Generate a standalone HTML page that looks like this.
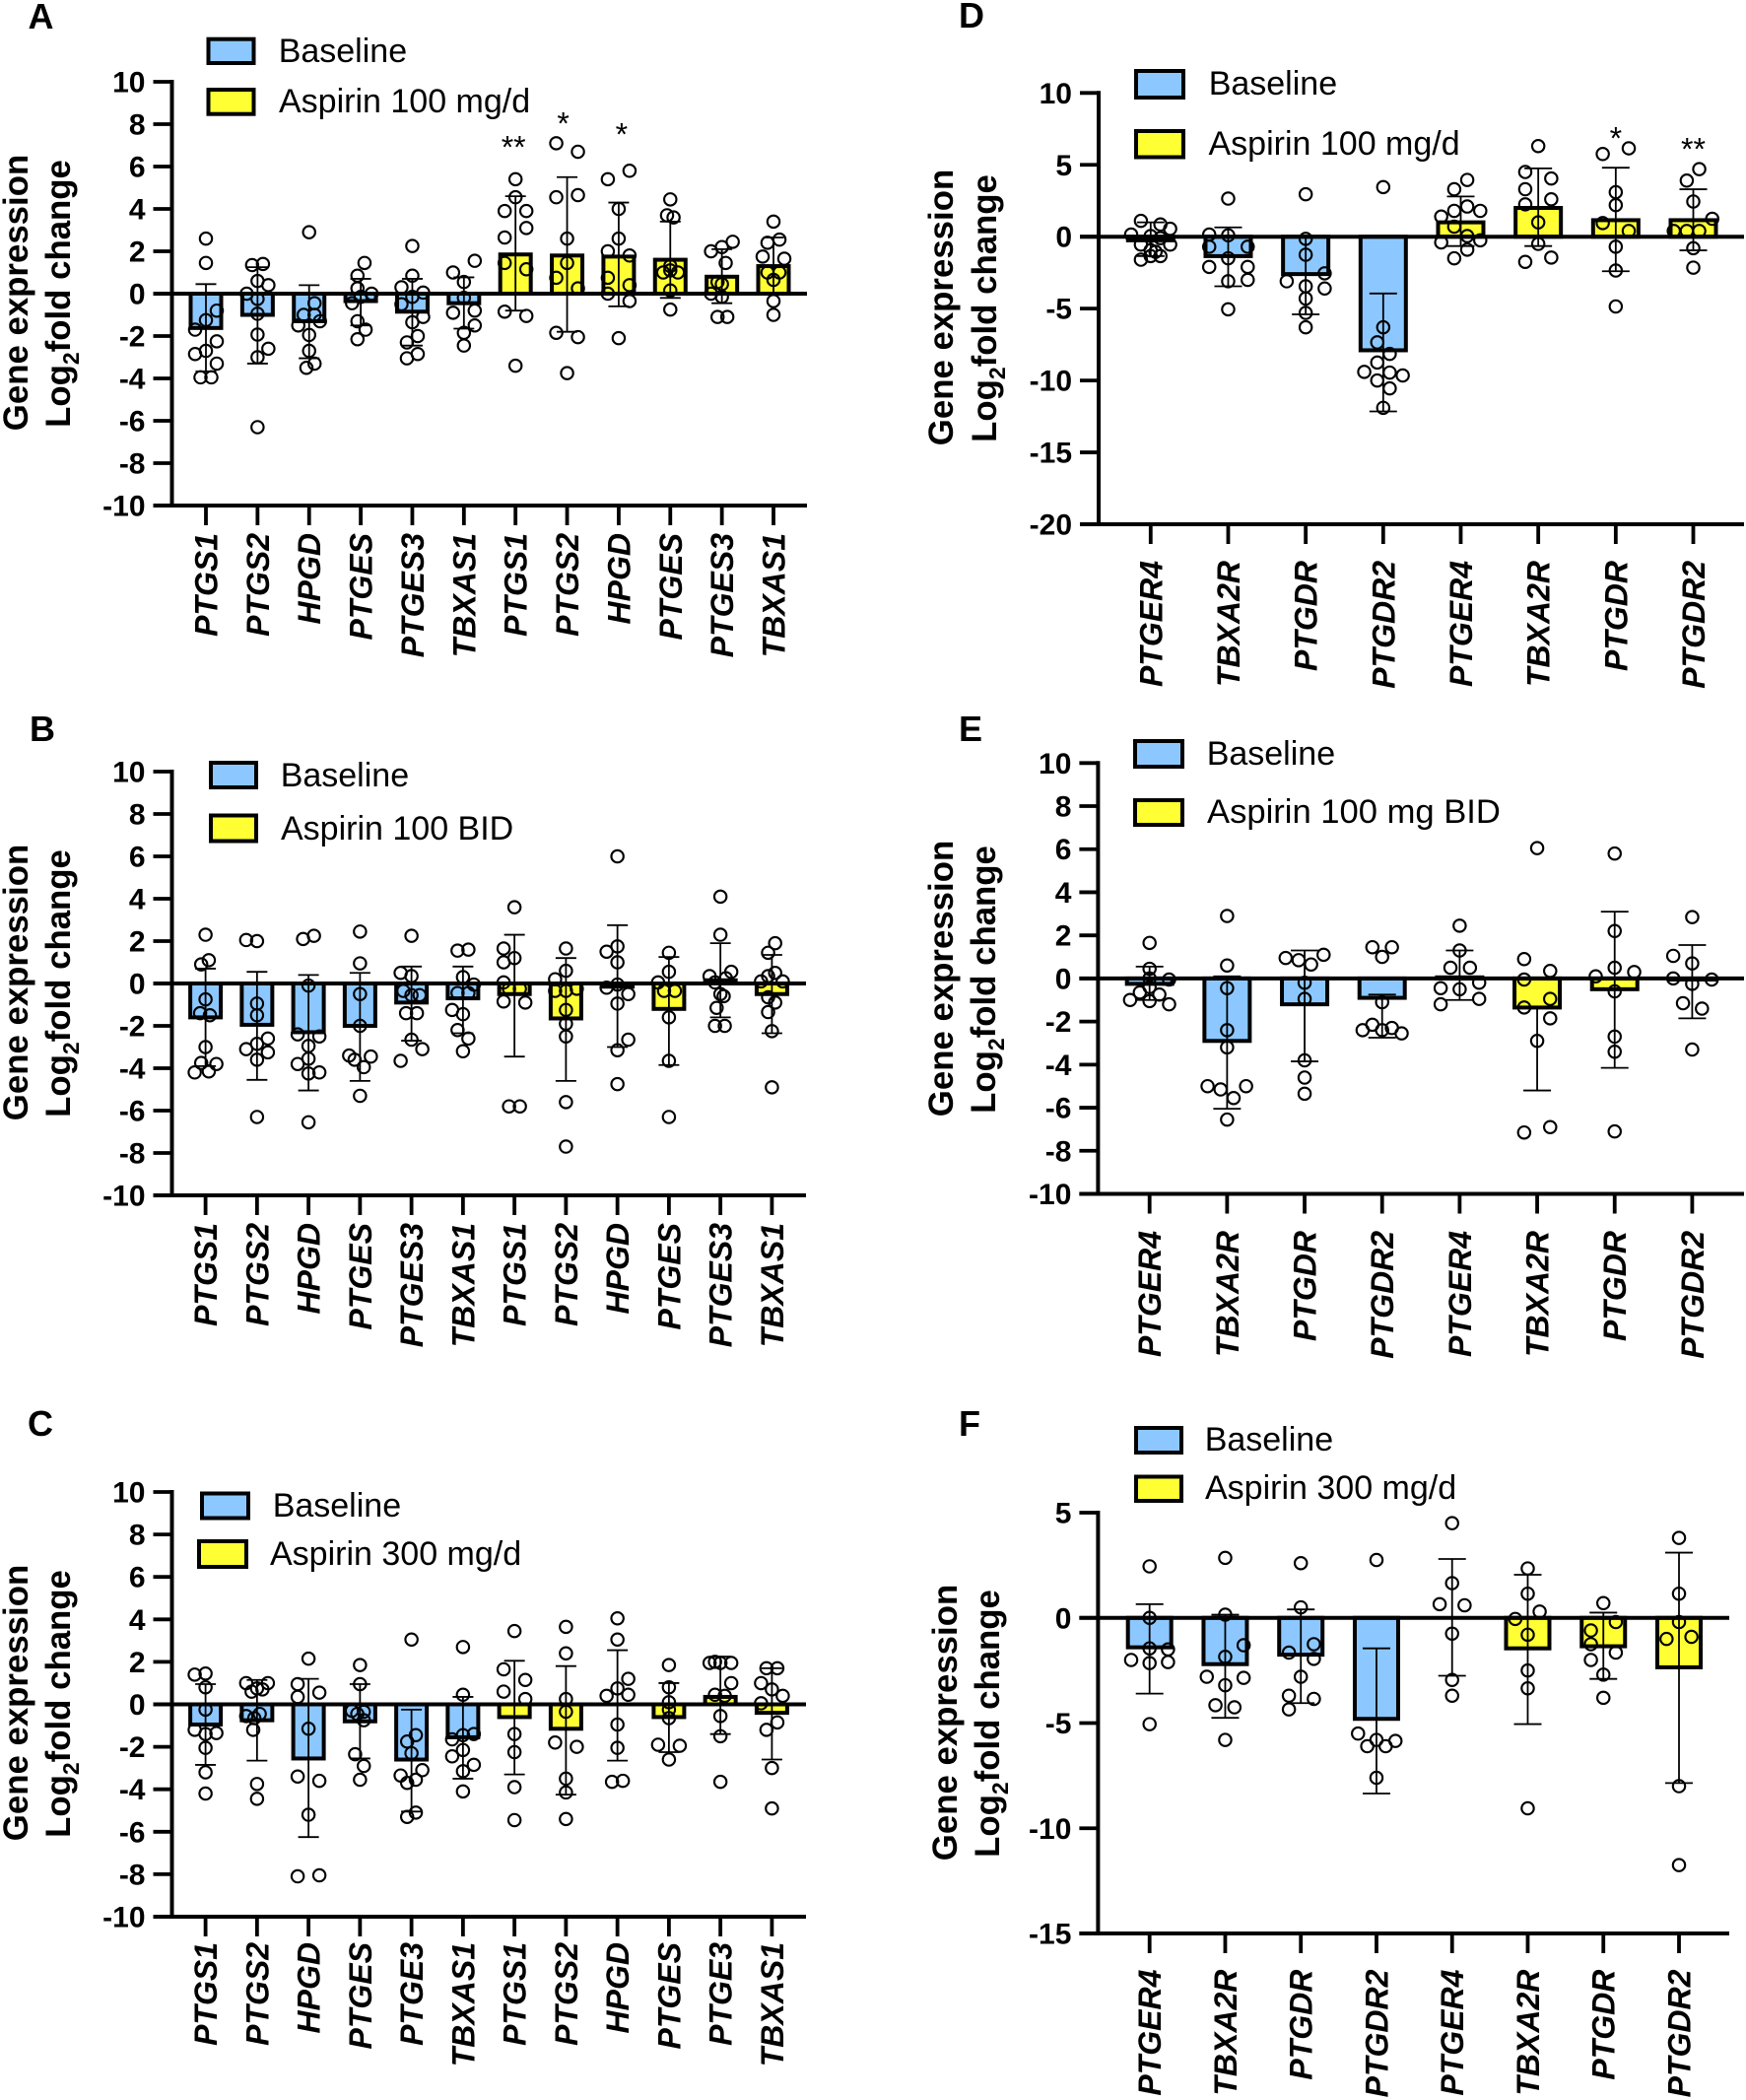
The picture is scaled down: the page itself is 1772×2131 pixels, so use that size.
<!DOCTYPE html>
<html lang="en">
<head>
<meta charset="utf-8">
<title>Gene expression after aspirin</title>
<style>
html,body{margin:0;padding:0;background:#fff;width:1772px;height:2131px;overflow:hidden}
svg{display:block;font-family:"Liberation Sans",Arial,sans-serif}
.letter{font-size:36px;font-weight:bold}
.ytitle{font-size:34.8px;font-weight:bold}
.legend-text{font-size:34px}
.swatch{stroke:#000;stroke-width:4}
.blue{fill:#8CC8FF}
.yellow{fill:#FFFF33}
</style>
</head>
<body>
<svg id="figure" xmlns="http://www.w3.org/2000/svg" width="1772" height="2131" viewBox="0 0 1772 2131">
<rect width="1772" height="2131" fill="#fff"/>

<text class="letter" x="28.5" y="29">A</text>
<text class="letter" x="30" y="752">B</text>
<text class="letter" x="28" y="1457">C</text>
<text class="letter" x="973" y="28">D</text>
<text class="letter" x="973" y="752">E</text>
<text class="letter" x="973" y="1457">F</text>

<g>
<rect class="swatch blue" x="211.5" y="39.7" width="46" height="24.3"/>
<text class="legend-text" x="282.7" y="63">Baseline</text>
<rect class="swatch yellow" x="211.5" y="91" width="46" height="24.7"/>
<text class="legend-text" x="283" y="114">Aspirin 100 mg/d</text>
</g>
<g>
<rect class="swatch blue" x="214" y="774" width="46" height="25"/>
<text class="legend-text" x="284.7" y="798">Baseline</text>
<rect class="swatch yellow" x="214" y="827.5" width="46" height="26"/>
<text class="legend-text" x="285" y="852">Aspirin 100 BID</text>
</g>
<g>
<rect class="swatch blue" x="205" y="1515.5" width="47" height="25"/>
<text class="legend-text" x="276.7" y="1539">Baseline</text>
<rect class="swatch yellow" x="202" y="1564" width="48" height="26"/>
<text class="legend-text" x="274" y="1588">Aspirin 300 mg/d</text>
</g>
<g>
<rect class="swatch blue" x="1153" y="72" width="48" height="27"/>
<text class="legend-text" x="1226.7" y="96">Baseline</text>
<rect class="swatch yellow" x="1153" y="133" width="48" height="26.5"/>
<text class="legend-text" x="1226.5" y="157">Aspirin 100 mg/d</text>
</g>
<g>
<rect class="swatch blue" x="1152" y="752" width="48" height="26"/>
<text class="legend-text" x="1224.7" y="776">Baseline</text>
<rect class="swatch yellow" x="1152" y="812" width="48" height="25"/>
<text class="legend-text" style="font-size:34.6px" x="1225" y="835">Aspirin 100 mg BID</text>
</g>
<g>
<rect class="swatch blue" x="1153" y="1449" width="46" height="25"/>
<text class="legend-text" x="1222.7" y="1472">Baseline</text>
<rect class="swatch yellow" x="1153" y="1498.5" width="46" height="24.5"/>
<text class="legend-text" x="1223" y="1521">Aspirin 300 mg/d</text>
</g>

<g>
<text class="ytitle" text-anchor="middle" transform="translate(28 297) rotate(-90)">Gene expression</text>
<text class="ytitle" text-anchor="middle" transform="translate(71 298) rotate(-90)">Log<tspan font-size="23" dy="9">2</tspan><tspan dy="-9">fold change</tspan></text>
</g>
<g>
<text class="ytitle" text-anchor="middle" transform="translate(28 997) rotate(-90)">Gene expression</text>
<text class="ytitle" text-anchor="middle" transform="translate(71 998) rotate(-90)">Log<tspan font-size="23" dy="9">2</tspan><tspan dy="-9">fold change</tspan></text>
</g>
<g>
<text class="ytitle" text-anchor="middle" transform="translate(28 1728) rotate(-90)">Gene expression</text>
<text class="ytitle" text-anchor="middle" transform="translate(71 1729) rotate(-90)">Log<tspan font-size="23" dy="9">2</tspan><tspan dy="-9">fold change</tspan></text>
</g>
<g>
<text class="ytitle" text-anchor="middle" transform="translate(967 312) rotate(-90)">Gene expression</text>
<text class="ytitle" text-anchor="middle" transform="translate(1011 313) rotate(-90)">Log<tspan font-size="23" dy="9">2</tspan><tspan dy="-9">fold change</tspan></text>
</g>
<g>
<text class="ytitle" text-anchor="middle" transform="translate(967 993) rotate(-90)">Gene expression</text>
<text class="ytitle" text-anchor="middle" transform="translate(1010 994) rotate(-90)">Log<tspan font-size="23" dy="9">2</tspan><tspan dy="-9">fold change</tspan></text>
</g>
<g>
<text class="ytitle" text-anchor="middle" transform="translate(971 1748) rotate(-90)">Gene expression</text>
<text class="ytitle" text-anchor="middle" transform="translate(1014 1749) rotate(-90)">Log<tspan font-size="23" dy="9">2</tspan><tspan dy="-9">fold change</tspan></text>
</g>
</svg>

<script>
// ---------- shared tick labels and category groups ----------
const ticksTen = [10, 8, 6, 4, 2, 0, -2, -4, -6, -8, -10];
const ticksD = [10, 5, 0, -5, -10, -15, -20];
const ticksF = [5, 0, -5, -10, -15];
const groupsTwelve = [0, 0, 0, 0, 0, 0, 1, 1, 1, 1, 1, 1];
const groupsEight = [0, 0, 0, 0, 1, 1, 1, 1];
const catsAB = ['PTGS1', 'PTGS2', 'HPGD', 'PTGES', 'PTGES3', 'TBXAS1', 'PTGS1', 'PTGS2', 'HPGD', 'PTGES', 'PTGES3', 'TBXAS1'];
const catsC = ['PTGS1', 'PTGS2', 'HPGD', 'PTGES', 'PTGE3', 'TBXAS1', 'PTGS1', 'PTGS2', 'HPGD', 'PTGES', 'PTGE3', 'TBXAS1'];
const catsDEF = ['PTGER4', 'TBXA2R', 'PTGDR', 'PTGDR2', 'PTGER4', 'TBXA2R', 'PTGDR', 'PTGDR2'];

// ---------- panel A ----------
const meansA = [-1.62, -1.0, -1.3, -0.35, -0.85, -0.45, 1.85, 1.8, 1.75, 1.6, 0.8, 1.3];
const errHighA = [0.45, 1.25, 0.4, 0.7, 0.7, 0.77, 4.6, 5.5, 4.3, 3.4, 2.1, 2.65];
const errLowA = [-3.67, -3.3, -3.05, -1.5, -2.45, -1.65, -0.8, -1.8, -0.6, -0.2, -0.45, -0.05];
const sigA = ['', '', '', '', '', '', '**', '*', '*', '', '', ''];
const sigLevelA = [0, 0, 0, 0, 0, 0, 7.1, 8.2, 7.7, 0, 0, 0];
const pointsA = [
  [2.6, 1.45, -0.8, -1.25, -1.7, -2.25, -2.7, -2.85, -3.3, -3.95, -3.95],
  [1.35, 1.4, 0.6, 0.4, 0, -0.25, -0.95, -1.93, -2.6, -3, -6.3],
  [2.9, -0.45, -1, -1, -1.5, -1.3, -1.95, -2.7, -3.3, -3.5],
  [1.45, 0.85, 0.25, 0, -0.15, -0.45, -1.3, -1.7, -2.15],
  [2.25, 0.85, 0.3, 0.05, -0.15, -0.5, -1.1, -1.35, -2, -2.3, -2.85, -3.05],
  [1.55, 1, 0.55, -0.2, -0.8, -0.9, -1.5, -1.85, -2.45],
  [5.4, 4.55, 3.9, 3.9, 3.1, 2.65, 1.45, 1.15, -0.85, -1.05, -3.4],
  [7.1, 6.7, 4.65, 4.55, 2.6, 1.45, 0.75, 0.25, -1.85, -2.05, -3.75],
  [5.8, 5.4, 4, 2.6, 2, 1.8, 0.75, 0.4, 0, -0.35, -2.1],
  [4.45, 3.7, 3.6, 1.3, 1.1, 1, 1, 0.15, -0.75],
  [2.45, 2.2, 2, 1.45, 0.55, 0.45, 0, -0.15, -1.1, -1.1],
  [3.4, 2.55, 2.4, 1.75, 1.65, 1, 1, 0.65, -0.35, -1]
];
const swarmA = [
  [0, 0, 1, 0, -1, 1, 0, -1, 1, -0.5, 0.5],
  [-0.5, 0.5, 0, 1, -1, 0, 0, 0, 1, 0, 0],
  [0, 0.5, -0.5, 0.5, -1, 1, 0, 0, 0.5, -0.25],
  [0.35, -0.3, -0.3, 1, 0, -0.8, -0.3, 0.45, -0.3],
  [0, 0, -1, 1, 0, -1, 1, 0, 0.5, -0.5, 0.5, -0.5],
  [1, -1, 0, 0, 1, -1, 1, 0, 0],
  [0, 0, -1, 1, 1, -1, -1, 1, -1, 1, 0],
  [-1, 1, 1, -1, 0, 0, -1, 1, -1, 1, 0],
  [1, -1, 0, 0, -1, 1, -1, 1, -1, 1, 0],
  [0, -0.3, 0.3, 0, 0, -0.65, 0.7, 0, 0],
  [1, 0, -1, 0.35, -0.4, 0, -1, 0, -0.4, 0.5],
  [0, 0.55, -0.55, -1, 1, -0.55, 0.55, 0, 0, 0]
];

// ---------- panel B ----------
const meansB = [-1.6, -1.95, -2.3, -2, -0.9, -0.7, -0.5, -1.65, -0.15, -1.2, 0.15, -0.5];
const errHighB = [0.7, 0.55, 0.4, 0.5, 0.8, 0.8, 2.3, 1.2, 2.75, 1.25, 1.9, 1.35];
const errLowB = [-3.9, -4.55, -5.05, -4.6, -2.7, -2.35, -3.45, -4.6, -3, -3.85, -1.6, -2.35];
const sigB = ['', '', '', '', '', '', '', '', '', '', '', ''];
const sigLevelB = [0, 0, 0, 0, 0, 0, 0, 0, 0, 0, 0, 0];
const pointsB = [
  [2.3, 1.1, 0.9, -0.75, -1.4, -1.5, -3, -3.75, -3.8, -4.2, -4.15],
  [2.05, 2, -0.95, -1.5, -2.6, -2.85, -3.1, -3.25, -3.6, -6.3],
  [2.25, 2.1, -0.1, -2.4, -2.5, -2.95, -3.55, -3.8, -4.2, -4.25, -6.55],
  [2.45, 0.95, -0.5, -2, -3.45, -3.4, -3.6, -3.95, -5.3],
  [2.25, 0.5, 0.35, -0.35, -0.55, -0.55, -1.4, -1.4, -2.65, -3.1, -3.65],
  [1.55, 1.6, 0.3, -0.05, -0.45, -0.45, -1.25, -1.45, -2.2, -2.6, -3.2],
  [3.6, 1.65, 1.2, 1, 0.05, -0.25, -0.25, -0.85, -0.9, -5.8, -5.8],
  [1.65, 0.6, 0.2, -0.25, -0.35, -0.35, -1.25, -1.9, -2.5, -5.6, -7.7],
  [6, 1.75, 1.5, 1, -0.05, -0.2, -0.5, -0.95, -2.65, -3.15, -4.75],
  [1.45, 0.55, 0.05, -0.35, -0.35, -1.6, -3.65, -6.3],
  [4.1, 2.3, 0.55, 0.35, 0.25, 0.05, -0.5, -0.6, -1.15, -2, -2],
  [1.9, 1.45, 0.5, 0.35, 0.1, 0.1, -0.65, -0.9, -1.35, -2.25, -4.9]
];
const swarmB = [
  [0, 0.3, -0.4, 0, -0.5, 0.4, 0, -0.4, 1, -1, 0.3],
  [-1, 0, 0, 0, 1, 0, -1, 1, 0, 0],
  [0.5, -0.5, 0, -1, 1, 0, 0, -1, 1, 0, 0],
  [0, 0, 0, 0, 1, -1, -0.5, 0.35, 0],
  [0, -1, 0, -0.75, 0.75, 0, -0.5, 0.5, 0, 1, -1],
  [-0.5, 0.5, 0, 1, -0.5, 0.5, -1, 0, -0.5, 0.5, 0],
  [0, -1, 0, -1, -1, -0.5, 0.5, -1, 1, -0.5, 0.5],
  [0, 0, -1, 1, 0, -1, 0, 0, 0, 0, 0],
  [0, 0, -1, 0, 0, -1, 1, 0, 1, 0, 0],
  [0, 0, -1, -0.45, 0.55, 0, 0, 0],
  [0, 0, 1, -1, 0.5, -0.5, 0, 0.3, -0.35, -0.5, 0.4],
  [0.3, -0.35, 0.3, -0.35, -1, 1, -0.35, 0.3, -0.35, 0, 0]
];

// ---------- panel C ----------
const meansC = [-0.95, -0.75, -2.55, -0.8, -2.6, -1.55, -0.6, -1.15, 0, -0.6, 0.35, -0.4];
const errHighC = [0.95, 1.15, 1.2, 0.95, -0.25, 0.35, 2.05, 1.8, 2.55, 1, 2.25, 1.7];
const errLowC = [-2.85, -2.65, -6.25, -2.55, -5.05, -3.5, -3.3, -4.25, -2.65, -2.25, -1.4, -2.6];
const sigC = ['', '', '', '', '', '', '', '', '', '', '', ''];
const sigLevelC = [0, 0, 0, 0, 0, 0, 0, 0, 0, 0, 0, 0];
const pointsC = [
  [1.45, 1.4, 0.8, -0.25, -1.2, -1.35, -1.4, -2.05, -3.2, -4.2],
  [1, 1, 0.75, 0.7, 0.6, -0.45, -0.55, -0.65, -1.2, -3.75, -4.45],
  [2.15, 0.95, 0.55, 0.35, -1.15, -3.4, -3.6, -5.2, -8.1, -8.05],
  [1.85, 0.95, -0.3, -0.35, -0.45, -0.75, -2.35, -2.9, -3.55],
  [3.05, -1.45, -1.75, -2.3, -3.35, -3.1, -3.55, -3.7, -5.1, -5.3],
  [2.7, 0.45, -1.65, -1.45, -1.4, -2.15, -2.45, -2.85, -3.15, -4.1],
  [3.45, 1.65, 1.15, 0.6, 0.25, -1.4, -2.25, -3.9, -5.45],
  [3.65, 2.4, 0.25, -0.35, -1.8, -2, -3.5, -4.15, -5.4],
  [4.05, 3.05, 1.2, 0.75, 0.4, 0.45, -0.95, -2.05, -3.65, -3.6],
  [1.85, 0.8, 0.1, -0.25, -0.65, -1.9, -1.95, -2.6],
  [1.95, 2, 1.95, 1.95, 1, 0.45, 0.4, -0.55, -1.5, -3.65],
  [1.7, 1.7, 1, 0.7, 0.4, 0.05, -0.85, -1.2, -3, -4.9]
];
const swarmC = [
  [0, -1, 0, 0, -1, 1, 0, 0, 0, 0],
  [-1, 1, 0, 0.5, -0.5, 0.25, -1, -0.25, -0.35, 0, 0],
  [0, -1, 1, -1, 0, -1, 1, 0, -1, 1],
  [0, 0, -0.75, 0.35, -0.25, 0.35, -0.45, 0.35, 0],
  [0, 0.4, -0.4, 0, -1, 1, 0.4, -0.4, 0.4, -0.4],
  [0, 0, -1, 0, 1, 0, -1, 1, 0, 0],
  [0, -1, 1, -1, 1, 0, 0, 0, 0],
  [0, 0, 0, 0, -1, 1, 0, 0, 0],
  [0, 0, 1, 0, -1, 1, 0, 0, -0.5, 0.5],
  [0, 0, 0, 0, 0, -1, 1, 0],
  [-1, -0.5, 0, 1, 1, -0.5, 0.4, 0, 0, 0],
  [-0.5, 0.5, -1, 0, 1, -1, 0.5, -0.5, 0, 0]
];

// ---------- panel D ----------
const meansD = [-0.25, -1.35, -2.6, -7.9, 1, 2, 1.15, 1.15];
const errHighD = [1, 0.65, 0, -3.95, 2.8, 4.75, 4.8, 3.3];
const errLowD = [-1.35, -3.45, -5.4, -12.15, -0.65, -0.65, -2.4, -0.95];
const sigD = ['', '', '', '', '', '', '*', '**'];
const sigLevelD = [0, 0, 0, 0, 0, 0, 7.1, 6.37];
const pointsD = [
  [1.1, 0.85, 0.55, 0.15, 0.05, -0.1, -0.55, -0.55, -0.95, -1.05, -1.35, -1.35, -1.6],
  [2.65, 0.15, 0.1, -0.7, -0.7, -1.5, -2.1, -2.1, -3.1, -3, -5.05],
  [2.95, -0.15, -1.25, -2.55, -3.1, -3.45, -3.6, -4.3, -5.3, -6.3],
  [3.45, -6.3, -7.35, -8.15, -8.75, -9.4, -9.45, -9.65, -10, -10.55, -11.9],
  [3.95, 3.3, 2.1, 1.8, 1.8, 1.4, 0.7, 0.05, -0.25, -0.4, -0.9, -1.5],
  [6.3, 4.5, 4.05, 3.3, 2.6, 2.25, 1, -0.5, -1.45, -1.75],
  [6.15, 5.75, 3.1, 2.2, 0.95, 0.4, -0.7, -2.35, -4.85],
  [4.7, 3.9, 2.45, 1.25, 0.4, 0.4, 0.4, -0.8, -2.15]
];
const swarmD = [
  [-0.9, 0.9, 1.8, -1.8, 0, 0.9, -0.9, 1.8, 0, 0.45, 0.9, 0, -0.9],
  [0, -1.75, 0, -1.75, 1.8, 0, -1.75, 1.8, 0, 1.8, 0],
  [0, 0, 0, 1.75, -1.75, 0, 1.75, 0, 0, 0],
  [0, 0, -0.55, 0.6, -0.55, -1.75, 0.6, 1.8, -0.55, 0.6, 0],
  [0.6, -0.6, 0.6, -0.6, 1.8, -1.8, -0.6, 0.6, 1.8, -1.8, 0.6, -0.6],
  [0, -1.2, 1.2, -1.2, 1.2, -1.2, 0, 0, 1.2, -1.2],
  [1.2, -1.2, 0, 0, -1.2, 1.2, 0, 0, 0],
  [0.55, -0.6, 0, 1.75, -1.8, -0.6, 0.55, 0, 0]
];

// ---------- panel E ----------
const meansE = [-0.25, -2.9, -1.2, -0.9, 0.05, -1.35, -0.5, -0.05];
const errHighE = [0.55, 0.1, 1.3, -0.75, 1.3, -1.35, 3.1, 1.55];
const errLowE = [-1, -6.05, -3.85, -2.75, -1, -5.2, -4.15, -1.85];
const sigE = ['', '', '', '', '', '', '', ''];
const sigLevelE = [0, 0, 0, 0, 0, 0, 0, 0];
const pointsE = [
  [1.65, 0.45, 0, -0.05, -0.4, -0.65, -0.75, -1, -1.05, -1.2],
  [2.9, 0.6, -0.45, -2.4, -3.2, -5, -5, -5.15, -5.55, -6.55],
  [1.1, 0.95, 0.85, 0.65, -0.2, -0.95, -3.8, -4.6, -5.35],
  [1.45, 1.45, 1, -1.1, -2.15, -2.3, -2.4, -2.4, -2.55],
  [2.45, 1.3, 0.5, 0.5, -0.2, -0.45, -0.5, -0.95, -1.2],
  [6.05, 0.9, 0.35, -0.05, -0.95, -1.35, -1.85, -2.9, -6.9, -7.15],
  [5.8, 2.2, 0.5, 0.3, 0.1, -0.6, -2.7, -3.4, -7.1],
  [2.85, 1.05, 0.7, 0, -0.05, -0.25, -1.15, -1.4, -3.3]
];
const swarmE = [
  [0, 0, 0, 1.8, 0, -0.9, 0.9, -1.8, 0, 1.8],
  [0, 0, 0, 0, 0, -1.8, 1.75, -0.6, 0.6, 0],
  [1.75, -1.75, -0.55, 0.6, 0, 0, 0, 0, 0],
  [-0.9, 0.9, 0, 0, -0.9, 0.9, -1.8, 0, 1.8],
  [0, 0, -0.85, 0.95, 1.8, -1.75, 0, 1.8, -1.75],
  [0, -1.2, 1.2, -1.2, 1.2, -1.2, 1.2, 0, 1.2, -1.2],
  [0, 0, 0, 1.8, -1.75, 0, 0, 0, 0],
  [0, -1.75, 0, -1.75, 1.8, 0, -0.85, 0.9, 0]
];

// ---------- panel F ----------
const meansF = [-1.4, -2.2, -1.75, -4.8, 0, -1.45, -1.35, -2.35];
const errHighF = [0.65, 0.15, 0.4, -1.45, 2.8, 2.05, 0.25, 3.1];
const errLowF = [-3.6, -4.75, -4.05, -8.35, -2.75, -5.05, -2.9, -7.85];
const sigF = ['', '', '', '', '', '', '', ''];
const sigLevelF = [0, 0, 0, 0, 0, 0, 0, 0];
const pointsF = [
  [2.45, 0, -1.5, -1.45, -2, -2.1, -2.15, -5.05],
  [2.85, 0.15, -1.3, -1.85, -2.8, -2.85, -3.2, -4.15, -4.25, -5.8],
  [2.6, 0.5, -1.25, -1.65, -1.95, -2.8, -3.7, -3.85, -4.35],
  [2.75, -5.5, -5.85, -5.8, -6.1, -6.1, -7.6],
  [4.5, 1.65, 0.65, 0.6, -0.75, -2.95, -3.7],
  [2.35, 1.15, 0.3, -0.05, -0.8, -2.5, -3.35, -9.05],
  [0.7, -0.2, -0.6, -1.25, -1.65, -2, -2.7, -3.8],
  [3.8, 1.15, -0.2, -0.9, -1, -8, -11.75]
];
const swarmF = [
  [0, 0, 1.7, 0, -1.7, 1.7, 0, 0],
  [0, 0, 1.7, 0, -1.7, 1.7, 0, -0.9, 0.85, 0],
  [0, 0, 1.2, -1.1, 1.2, 0, -1.1, 1.2, -1.1],
  [0, -1.7, 1.75, 0, -0.85, 0.85, 0],
  [0, 0, -1.15, 1.15, 0, 0, 0],
  [0, 0, 1.1, -1.15, 0, 0, 0, 0],
  [0, 1.15, -1.15, -1.15, 1.15, -1.15, 0, 0],
  [0, 0, 0, 1.15, -1.15, 0, 0]
];

const SVGNS = 'http://www.w3.org/2000/svg';
const figure = document.getElementById('figure');

function node(parent, tag, attrs, text) {
  const el = document.createElementNS(SVGNS, tag);
  for (const k in attrs) el.setAttribute(k, attrs[k]);
  if (text !== undefined) el.textContent = text;
  parent.appendChild(el);
  return el;
}

function drawPanel(cfg) {
  const n = cfg.cats.length;
  const yMax = cfg.ticks[0];
  const yMin = cfg.ticks[cfg.ticks.length - 1];
  const yScale = function (v) { return cfg.top + (yMax - v) / (yMax - yMin) * (cfg.bottom - cfg.top); };
  const xScale = function (i) { return cfg.firstX + i * (cfg.lastX - cfg.firstX) / (n - 1); };

  const g = node(figure, 'g', {});
  
  

  // bars
  cfg.means.forEach(function (m, i) {
    const y0 = yScale(0), y1 = yScale(m);
    const bar = node(g, 'rect', {
      x: xScale(i) - cfg.barWidth / 2,
      y: Math.min(y0, y1),
      width: cfg.barWidth,
      height: Math.abs(y1 - y0),
      fill: cfg.groups[i] === 0 ? '#8CC8FF' : '#FFFF33',
      stroke: '#000',
      'stroke-width': 4
    });
    
    
  });

  // error bars
  cfg.cats.forEach(function (c, i) {
    const x = xScale(i);
    const yh = yScale(cfg.high[i]), yl = yScale(cfg.low[i]);
    const stem = node(g, 'line', { x1: x, x2: x, y1: yh, y2: yl, stroke: '#000', 'stroke-width': 1.8 });
    
    
    const capHigh = node(g, 'line', { x1: x - cfg.capHalf, x2: x + cfg.capHalf, y1: yh, y2: yh, stroke: '#000', 'stroke-width': 1.8 });
    
    
    const capLow = node(g, 'line', { x1: x - cfg.capHalf, x2: x + cfg.capHalf, y1: yl, y2: yl, stroke: '#000', 'stroke-width': 1.8 });
    
    
  });

  // individual points
  cfg.points.forEach(function (vals, i) {
    vals.forEach(function (v, j) {
      const dot = node(g, 'circle', {
        cx: xScale(i) + cfg.swarm[i][j] * 11,
        cy: yScale(v),
        r: 6.2,
        fill: 'none',
        stroke: '#000',
        'stroke-width': 2.1
      });
      
      
    });
  });

  // axes
  const yAxis = node(g, 'line', { x1: cfg.axisX, x2: cfg.axisX, y1: cfg.top - 2, y2: cfg.bottom + 2, stroke: '#000', 'stroke-width': 4 });
  
  
  const xAxis = node(g, 'line', { x1: cfg.axisX - 19, x2: cfg.right, y1: cfg.bottom, y2: cfg.bottom, stroke: '#000', 'stroke-width': 4 });
  
  
  const zeroLine = node(g, 'line', { x1: cfg.axisX - 19, x2: cfg.right, y1: yScale(0), y2: yScale(0), stroke: '#000', 'stroke-width': 4 });
  
  

  // y ticks
  cfg.ticks.forEach(function (t) {
    const y = yScale(t);
    const tick = node(g, 'line', { x1: cfg.axisX - 19, x2: cfg.axisX, y1: y, y2: y, stroke: '#000', 'stroke-width': 3.8 });
    
    
    const label = node(g, 'text', {
      x: cfg.axisX - 27,
      y: y + 10.5,
      'text-anchor': 'end',
      'font-size': 30,
      'font-weight': 'bold'
    }, String(t));
    
    
  });

  // x ticks and labels
  cfg.cats.forEach(function (c, i) {
    const x = xScale(i);
    const tick = node(g, 'line', { x1: x, x2: x, y1: cfg.bottom, y2: cfg.bottom + 20, stroke: '#000', 'stroke-width': 3.8 });
    
    
    const label = node(g, 'text', {
      transform: 'translate(' + (x + 11.5) + ' ' + cfg.labelEnd + ') rotate(-90)',
      'text-anchor': 'end',
      'font-size': 32,
      'font-weight': 'bold',
      'font-style': 'italic'
    }, c);
    
    
  });

  // significance marks
  cfg.sig.forEach(function (s, i) {
    if (!s) return;
    const mark = node(g, 'text', {
      x: xScale(i) + (cfg.sigNudge ? cfg.sigNudge[i] : 0),
      y: yScale(cfg.sigLevel[i]) + 15,
      'text-anchor': 'middle',
      'font-size': 32
    }, s);
    
    
  });
}

drawPanel({ id: 'a', cats: catsAB, groups: groupsTwelve, ticks: ticksTen, means: meansA, high: errHighA, low: errLowA, points: pointsA, swarm: swarmA, sig: sigA, sigLevel: sigLevelA,
  sigNudge: [0, 0, 0, 0, 0, 0, -2, -4, 3, 0, 0, 0],
  barWidth: 31, capHalf: 10.5,
  axisX: 174.5, top: 83, bottom: 513, firstX: 209, lastX: 785, right: 819, labelEnd: 541 });
drawPanel({ id: 'b', cats: catsAB, groups: groupsTwelve, ticks: ticksTen, means: meansB, high: errHighB, low: errLowB, points: pointsB, swarm: swarmB, sig: sigB, sigLevel: sigLevelB,
  barWidth: 31, capHalf: 10.5,
  axisX: 174.5, top: 783, bottom: 1213, firstX: 208.6, lastX: 783.4, right: 818, labelEnd: 1241 });
drawPanel({ id: 'c', cats: catsC, groups: groupsTwelve, ticks: ticksTen, means: meansC, high: errHighC, low: errLowC, points: pointsC, swarm: swarmC, sig: sigC, sigLevel: sigLevelC,
  barWidth: 31, capHalf: 10.5,
  axisX: 174.5, top: 1514, bottom: 1945, firstX: 208.6, lastX: 783.4, right: 818, labelEnd: 1971 });
drawPanel({ id: 'd', cats: catsDEF, groups: groupsEight, ticks: ticksD, means: meansD, high: errHighD, low: errLowD, points: pointsD, swarm: swarmD, sig: sigD, sigLevel: sigLevelD,
  barWidth: 46, capHalf: 14,
  axisX: 1115, top: 94.3, bottom: 532, firstX: 1167.8, lastX: 1718.5, right: 1770, labelEnd: 569 });
drawPanel({ id: 'e', cats: catsDEF, groups: groupsEight, ticks: ticksTen, means: meansE, high: errHighE, low: errLowE, points: pointsE, swarm: swarmE, sig: sigE, sigLevel: sigLevelE,
  barWidth: 46, capHalf: 14,
  axisX: 1114.4, top: 774.3, bottom: 1211.5, firstX: 1166.7, lastX: 1717.4, right: 1770, labelEnd: 1249 });
drawPanel({ id: 'f', cats: catsDEF, groups: groupsEight, ticks: ticksF, means: meansF, high: errHighF, low: errLowF, points: pointsF, swarm: swarmF, sig: sigF, sigLevel: sigLevelF,
  barWidth: 44, capHalf: 14,
  axisX: 1114.4, top: 1535, bottom: 1962, firstX: 1166.7, lastX: 1704, right: 1755, labelEnd: 1998.6 });
</script>
</body>
</html>
